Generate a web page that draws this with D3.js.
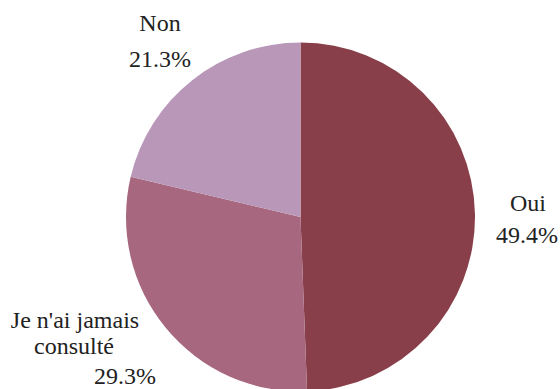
<!DOCTYPE html>
<html><head><meta charset="utf-8">
<script src="https://cdn.jsdelivr.net/npm/d3@7"></script>
<style>
body{margin:0;background:#fff;}
#wrap{position:relative;width:560px;height:389px;overflow:hidden;}
#wrap svg{position:absolute;left:0;top:0;display:block;}
.lbl{position:absolute;white-space:nowrap;font-family:"Liberation Serif";font-size:24px;line-height:24px;color:#222;transform:translateX(-50%);}
</style>
</head><body>
<div id="wrap"><svg id="c" width="560" height="389"></svg></div>
<script>
const categories = ["Oui", "Je n'ai jamais consulté", "Non"];
const values = [49.4, 29.3, 21.3];
const valueLabels = ["49.4%", "29.3%", "21.3%"];
const colors = ["#893f4a", "#a6677f", "#b997b9"];

const svg = d3.select("#c");
const cx = 300.5, cy = 217, r = 174.5;
const pie = d3.pie().sort(null).value(d => d)(values);
const arc = d3.arc().innerRadius(0).outerRadius(r);
svg.append("g").attr("transform", `translate(${cx},${cy})`)
  .selectAll("path").data(pie).enter().append("path")
  .attr("d", arc).attr("fill", (d, i) => colors[i]);

// label lines: text, x centre, baseline (page pixels)
const labelLines = [
  [categories[2], 160, 31], [valueLabels[2], 160, 67],
  [categories[0], 528, 211], [valueLabels[0], 527, 243],
  ["Je n'ai jamais", 75, 328], ["consulté", 74, 354], [valueLabels[1], 125, 384]
];
d3.select("#wrap").selectAll("div.lbl").data(labelLines).enter().append("div")
  .attr("class", "lbl")
  .style("left", d => d[1] + "px")
  .style("top", d => (d[2] - 20) + "px")
  .text(d => d[0]);
</script>
</body></html>
